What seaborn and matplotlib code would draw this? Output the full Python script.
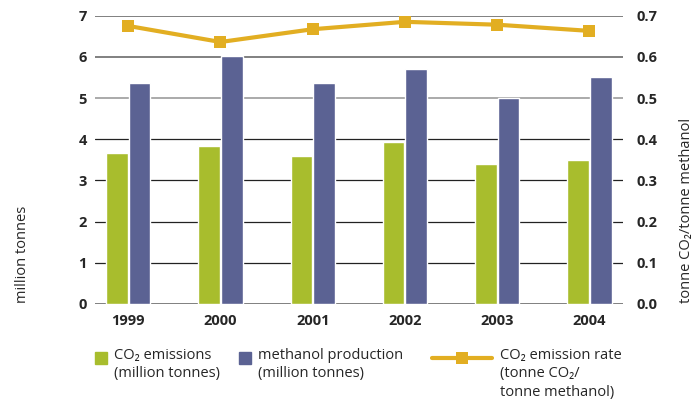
import matplotlib
matplotlib.use("Agg")
import matplotlib.pyplot as plt
import seaborn as sns
import numpy as np
import pandas as pd
from matplotlib.patches import Rectangle
from matplotlib.lines import Line2D

years = ["1999", "2000", "2001", "2002", "2003", "2004"]
co2_emissions = [3.67, 3.83, 3.59, 3.93, 3.40, 3.50]
methanol_production = [5.36, 6.02, 5.36, 5.70, 4.99, 5.51]
emission_rate = [0.675, 0.636, 0.667, 0.685, 0.678, 0.663]

green = "#a8bd2d"
blue = "#5b6293"
gold = "#e2ae22"

sns.set_style("white")
plt.rcParams["font.family"] = ["Open Sans", "DejaVu Sans"]

df = pd.DataFrame({
    "year": years * 2,
    "series": ["co2"] * len(years) + ["methanol"] * len(years),
    "value": co2_emissions + methanol_production,
})

W, H = 696, 401
fig = plt.figure(figsize=(W / 100, H / 100), dpi=100)
ax = fig.add_axes([0.1365, 0.242, 0.758, 0.719])

sns.barplot(data=df, x="year", y="value", hue="series",
            palette=[green, blue], width=0.49, gap=0.04,
            saturation=1, legend=False, ax=ax)

ax.set_ylim(0, 7)
ax.set_xlim(-0.36, 5.36)
ax.set_yticks(range(0, 8))
ax.set_xlabel("")
ax.set_ylabel("")
for s in ax.spines.values():
    s.set_visible(False)
ax.set_axisbelow(True)
ax.yaxis.grid(True)
grid_cols = ["#808080", "#222222", "#222222", "#222222", "#222222", "#aaaaaa", "#808080", "#808080"]
for gl, c in zip(ax.yaxis.get_gridlines(), grid_cols):
    gl.set_color(c)
    gl.set_linewidth(1.4 if c != "#222222" else 0.9)
ax.tick_params(axis="both", length=0, labelsize=10.5)
ax.tick_params(axis="y", pad=6)
ax.tick_params(axis="x", pad=7)
for lab in ax.get_xticklabels() + ax.get_yticklabels():
    lab.set_fontweight("bold")

ax2 = ax.twinx()
sns.lineplot(x=np.arange(len(years)), y=emission_rate, color=gold, lw=3,
             marker="s", markersize=9, markeredgewidth=0, ax=ax2)
ax2.set_ylim(0, 0.7)
ax2.set_yticks(np.arange(0, 0.71, 0.1))
ax2.set_yticklabels([f"{v:.1f}" for v in np.arange(0, 0.71, 0.1)])
for s in ax2.spines.values():
    s.set_visible(False)
ax2.tick_params(axis="y", length=0, labelsize=10.5, pad=10)
for lab in ax2.get_yticklabels():
    lab.set_fontweight("bold")

fig.text(0.032, 0.245, "million tonnes", rotation=90, ha="center", va="bottom", fontsize=10.5)
fig.text(0.987, 0.245, "tonne CO₂/tonne methanol", rotation=90, ha="center", va="bottom", fontsize=10.5)

# legend drawn by hand below the plot
def fx(px):
    return px / W

def fy(py):
    return 1 - py / H

sq = 12
fig.patches.append(Rectangle((fx(95), fy(364)), sq / W, sq / H, color=green,
                             transform=fig.transFigure, figure=fig))
fig.patches.append(Rectangle((fx(239), fy(364)), sq / W, sq / H, color=blue,
                             transform=fig.transFigure, figure=fig))
fig.add_artist(Line2D([fx(432), fx(492)], [fy(358), fy(358)], color=gold, lw=3,
                      transform=fig.transFigure, solid_capstyle="round"))
fig.add_artist(Line2D([fx(462)], [fy(358)], color=gold, marker="s", markersize=9,
                      markeredgewidth=0, transform=fig.transFigure))

txt_kw = dict(ha="left", va="top", fontsize=10.5, linespacing=1.3)
fig.text(fx(114), fy(348), "CO₂ emissions\n(million tonnes)", **txt_kw)
fig.text(fx(258), fy(348), "methanol production\n(million tonnes)", **txt_kw)
fig.text(fx(500), fy(348), "CO₂ emission rate\n(tonne CO₂/\ntonne methanol)", **txt_kw)

fig.savefig("out.png", dpi=100)
